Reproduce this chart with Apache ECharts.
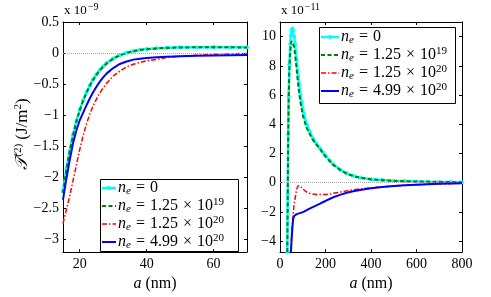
<!DOCTYPE html>
<html><head><meta charset="utf-8">
<script src="https://cdn.jsdelivr.net/npm/echarts@6/dist/echarts.min.js"></script>
<style>html,body{margin:0;padding:0;background:#fff}#c{width:491px;height:297px}</style>
</head><body><div id="c"></div>
<script>
// ---------- data ----------
const seriesNames = ['n0', 'n19', 'n20', 'n499'];
const legendLabels = {
  n0:   '{i|n}{sub|e}{op|=}{t|0}',
  n19:  '{i|n}{sub|e}{op|=}{t|1.25}{op|×}{t|10}{sup|19}',
  n20:  '{i|n}{sub|e}{op|=}{t|1.25}{op|×}{t|10}{sup|20}',
  n499: '{i|n}{sub|e}{op|=}{t|4.99}{op|×}{t|10}{sup|20}'
};

// left panel (units of 1e-9 J/m^2), a in nm
const leftA     = [15,16,17,18,19,20,21,22,23,24,25,26,27,28,30,32,34,36,38,40,43,46,50,55,60,65,70];
const leftCyan  = [-2.22,-1.86,-1.57,-1.31,-1.09,-0.91,-0.76,-0.63,-0.52,-0.42,-0.34,-0.27,-0.21,-0.16,-0.085,-0.03,0.005,0.035,0.055,0.065,0.078,0.086,0.092,0.095,0.096,0.095,0.092];
const leftGreen = [-2.25,-1.88,-1.58,-1.32,-1.10,-0.92,-0.77,-0.64,-0.53,-0.43,-0.35,-0.28,-0.22,-0.17,-0.09,-0.035,0.0,0.03,0.05,0.06,0.075,0.083,0.09,0.093,0.094,0.093,0.09];
const leftRed   = [-2.74,-2.52,-2.30,-2.05,-1.80,-1.55,-1.33,-1.14,-0.98,-0.85,-0.74,-0.64,-0.56,-0.49,-0.37,-0.29,-0.22,-0.18,-0.15,-0.125,-0.10,-0.07,-0.052,-0.035,-0.02,-0.01,-0.005];
const leftBlue  = [-2.36,-2.02,-1.72,-1.45,-1.24,-1.08,-0.96,-0.84,-0.73,-0.63,-0.54,-0.46,-0.39,-0.33,-0.24,-0.175,-0.135,-0.105,-0.09,-0.08,-0.068,-0.06,-0.05,-0.042,-0.037,-0.033,-0.03];

// right panel (units of 1e-11 J/m^2)
const rightA     = [32,34,36,38,41,45,48,51,55,58,62,66,73,80,84,90,95,100,105,117,130,146,160,176,190,200,220,234,264,293,322,352,400,450,500,550,600,650,700,750,800];
const rightCyan  = [-4.75,-0.8,3.3,5.9,8.1,9.5,10.1,10.45,10.55,10.4,10.0,9.5,8.4,7.3,6.75,6.0,5.5,5.05,4.7,4.0,3.5,3.0,2.68,2.36,2.05,1.85,1.5,1.26,0.9,0.64,0.47,0.35,0.24,0.18,0.14,0.11,0.09,0.07,0.055,0.045,0.035];
const rightGreen = [-4.75,-1.0,3.0,5.5,7.7,8.9,9.45,9.7,9.8,9.65,9.3,8.8,7.8,6.7,6.2,5.5,5.05,4.65,4.35,3.75,3.35,2.9,2.6,2.3,2.0,1.8,1.45,1.22,0.88,0.62,0.46,0.34,0.23,0.17,0.13,0.10,0.08,0.065,0.05,0.04,0.03];
const rightRed   = [null,null,null,null,null,null,-4.75,-3.5,-2.7,-2.1,-1.5,-1.1,-0.45,-0.2,-0.17,-0.25,-0.33,-0.42,-0.5,-0.64,-0.72,-0.78,-0.8,-0.81,-0.81,-0.8,-0.77,-0.73,-0.64,-0.56,-0.48,-0.42,-0.35,-0.28,-0.22,-0.17,-0.14,-0.11,-0.08,-0.06,-0.04];
const rightBlue  = [null,null,null,null,null,null,-4.75,-3.9,-2.95,-2.5,-2.28,-2.2,-2.15,-2.12,-2.1,-2.08,-2.05,-2.02,-1.98,-1.88,-1.77,-1.65,-1.55,-1.43,-1.32,-1.25,-1.1,-1.0,-0.83,-0.69,-0.58,-0.5,-0.38,-0.29,-0.22,-0.17,-0.14,-0.11,-0.08,-0.06,-0.04];

// ticks
const leftXTicks  = [20, 40, 60];
const leftYTicks  = [-3, -2.5, -2, -1.5, -1, -0.5, 0, 0.5];
const rightXTicks = [0, 200, 400, 600, 800];
const rightYTicks = [-4, -2, 0, 2, 4, 6, 8, 10];

// ---------- chart ----------
const FONT = 'Liberation Serif';
const chart = echarts.init(document.getElementById('c'));
const fmt = v => String(v).replace('-', '\u2212');
const pairs = (xs, ys) => xs.map((x, i) => [x, ys[i]]);

function axis(kind, grid, min, max, ticks, pos, labels) {
  return {
    type: 'value', gridIndex: grid, min: min, max: max, position: pos,
    axisLine: { onZero: false, lineStyle: { color: '#000', width: 1 } },
    axisTick: { inside: true, length: 3, customValues: ticks, lineStyle: { color: '#000', width: 1 } },
    axisLabel: labels ? { customValues: ticks, formatter: fmt, color: '#000', fontFamily: FONT, fontSize: 14, margin: kind === 'x' ? 5 : 4 } : { show: false },
    splitLine: { show: false }
  };
}

const styles = [
  { color: '#00ffff', width: 2.5, type: 'solid', symbol: 'circle', size: 4 },
  { color: '#008000', width: 2, type: [4, 2.5], symbol: 'none', size: 0 },
  { color: '#ff0000', width: 1.5, type: [5, 2, 1.5, 2], symbol: 'none', size: 0 },
  { color: '#0000ff', width: 2, type: 'solid', symbol: 'none', size: 0 }
];
const leftData = [leftCyan, leftGreen, leftRed, leftBlue];
const rightData = [rightCyan, rightGreen, rightRed, rightBlue];

const zeroLine = {
  silent: true, symbol: 'none', animation: false, label: { show: false },
  lineStyle: { color: '#aaaaaa', type: 'dotted', width: 1 },
  data: [{ yAxis: 0 }]
};

const series = [];
[[leftA, leftData, 0], [rightA, rightData, 2]].forEach(([xs, data, ai]) => {
  data.forEach((ys, k) => {
    const s = styles[k];
    series.push({
      type: 'line', name: seriesNames[k], xAxisIndex: ai, yAxisIndex: ai,
      data: pairs(xs, ys), smooth: false, connectNulls: false,
      symbol: s.symbol, symbolSize: s.size, showSymbol: s.symbol !== 'none',
      itemStyle: { color: s.color },
      lineStyle: { color: s.color, width: s.width, type: s.type },
      z: 2 + k,
      markLine: k === 0 ? zeroLine : undefined
    });
  });
});

const rich = {
  i:   { fontFamily: FONT, fontStyle: 'italic', fontSize: 16, lineHeight: 18, color: '#000' },
  sub: { fontFamily: FONT, fontStyle: 'italic', fontSize: 11, lineHeight: 11, padding: [6, 0, 0, 0], color: '#000' },
  op:  { fontFamily: FONT, fontSize: 16, lineHeight: 18, padding: [0, 5, 0, 5], color: '#000' },
  t:   { fontFamily: FONT, fontSize: 16, lineHeight: 18, color: '#000' },
  sup: { fontFamily: FONT, fontSize: 11, lineHeight: 11, padding: [0, 0, 8, 0], color: '#000' }
};

// manual legend boxes (graphic) matching the MATLAB legend look
function legendGraphic(bx, by, bw, bh, lineX1, lineX2, textX, rowY) {
  const children = [{
    type: 'rect', shape: { x: bx + 0.5, y: by + 0.5, width: bw, height: bh },
    style: { fill: '#fff', stroke: '#000', lineWidth: 1 }
  }];
  seriesNames.forEach((n, k) => {
    const s = styles[k];
    const y = rowY[k];
    const dash = Array.isArray(s.type) ? s.type : null;
    children.push({
      type: 'line', shape: { x1: lineX1, y1: y, x2: lineX2, y2: y },
      style: { stroke: s.color, lineWidth: s.width, lineDash: dash }
    });
    if (s.symbol !== 'none') {
      children.push({ type: 'circle', shape: { cx: (lineX1 + lineX2) / 2, cy: y, r: 2 }, style: { fill: s.color } });
    }
    children.push({
      type: 'text', x: textX, y: y,
      style: { text: legendLabels[n], rich: rich, verticalAlign: 'middle', align: 'left' }
    });
  });
  return { type: 'group', z: 100, children: children };
}

const nameRich = {
  i: { fontFamily: FONT, fontStyle: 'italic', fontSize: 16, color: '#000' },
  t: { fontFamily: FONT, fontSize: 16, color: '#000' }
};

const xs = [
  axis('x', 0, 15, 70, leftXTicks, 'bottom', true),
  axis('x', 0, 15, 70, leftXTicks, 'top', false),
  axis('x', 1, 0, 800, rightXTicks, 'bottom', true),
  axis('x', 1, 0, 800, rightXTicks, 'top', false)
];
[0, 2].forEach(i => {
  xs[i].name = '{i|a}{t| (nm)}';
  xs[i].nameLocation = 'middle';
  xs[i].nameGap = 21;
  xs[i].nameTextStyle = { rich: nameRich };
});

const expRich = {
  t: { fontFamily: FONT, fontSize: 13, lineHeight: 16, color: '#000' },
  sup: { fontFamily: FONT, fontSize: 10, lineHeight: 10, padding: [0, 0, 8, 1], color: '#000' }
};

chart.setOption({
  animation: false,
  backgroundColor: '#fff',
  grid: [
    { left: 63, top: 22, width: 184, height: 237 },
    { left: 280, top: 22, width: 182, height: 237 }
  ],
  xAxis: xs,
  yAxis: [
    axis('y', 0, -3.2, 0.5, leftYTicks, 'left', true),
    axis('y', 0, -3.2, 0.5, leftYTicks, 'right', false),
    axis('y', 1, -4.75, 11, rightYTicks, 'left', true),
    axis('y', 1, -4.75, 11, rightYTicks, 'right', false)
  ],
  series: series,
  graphic: [
    legendGraphic(100, 179, 138, 72, 102, 116, 118, [188, 206, 224, 242]),
    legendGraphic(319, 27, 136, 76, 321, 339, 341, [37, 55, 73, 91]),
    { type: 'text', left: 64, top: 2, style: { text: '{t|x 10}{sup|\u22129}', rich: expRich } },
    { type: 'text', left: 281, top: 2, style: { text: '{t|x 10}{sup|\u221211}', rich: expRich } },
    {
      type: 'text', x: 23, y: 134, rotation: Math.PI / 2,
      style: {
        text: '{i|\uD835\uDCAF}{sup|(2)}{t| (J/m}{sup|2}{t|)}',
        align: 'center', verticalAlign: 'middle',
        rich: {
          i: { fontFamily: FONT, fontStyle: 'italic', fontSize: 17, lineHeight: 20, color: '#000' },
          t: { fontFamily: FONT, fontSize: 17, lineHeight: 20, color: '#000' },
          sup: { fontFamily: FONT, fontSize: 11, lineHeight: 11, padding: [0, 0, 9, 0], color: '#000' }
        }
      }
    }
  ]
});
</script>
</body></html>
